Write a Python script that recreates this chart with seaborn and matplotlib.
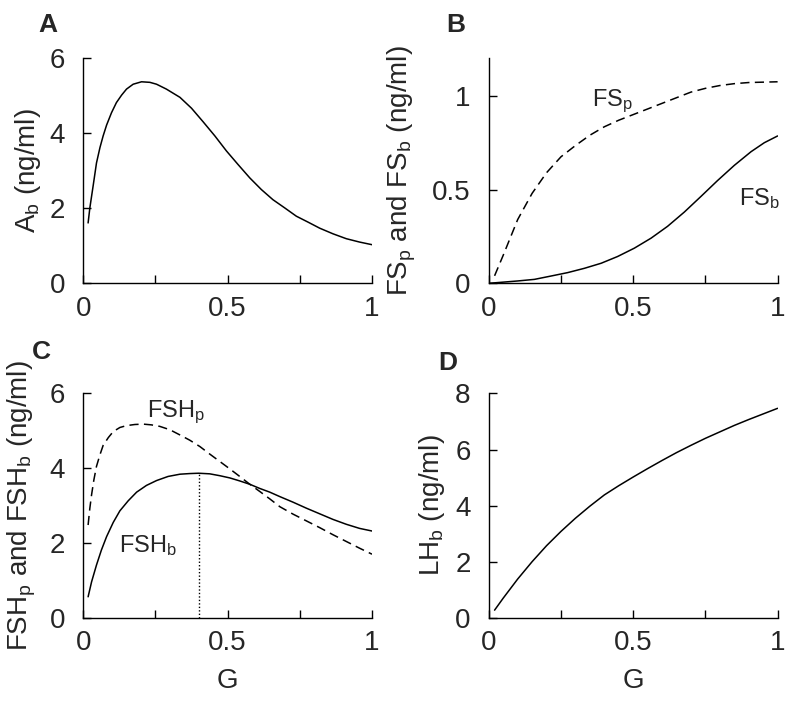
import seaborn as sns
import matplotlib.pyplot as plt

# Panel A: A_b vs G
a_x = [0.017, 0.023, 0.035, 0.046, 0.058, 0.069, 0.081, 0.098, 0.115, 0.133, 0.150, 0.173,
       0.202, 0.231, 0.254, 0.288, 0.335, 0.375, 0.415, 0.456, 0.496, 0.536, 0.577, 0.617,
       0.657, 0.698, 0.738, 0.779, 0.819, 0.865, 0.911, 0.957, 1.0]
a_y = [1.61, 2.01, 2.63, 3.21, 3.62, 3.93, 4.22, 4.55, 4.82, 5.02, 5.18, 5.31,
       5.375, 5.36, 5.31, 5.18, 4.96, 4.67, 4.31, 3.93, 3.53, 3.17, 2.81, 2.50,
       2.23, 2.01, 1.79, 1.63, 1.47, 1.32, 1.19, 1.10, 1.03]

# Panel B: FS_p (dashed) and FS_b (solid)
fsp_x = [0.02, 0.05, 0.1, 0.15, 0.2, 0.25, 0.3, 0.35, 0.4, 0.45, 0.5, 0.55, 0.6, 0.65,
         0.7, 0.75, 0.8, 0.85, 0.9, 1.0]
fsp_y = [0.04, 0.15, 0.34, 0.48, 0.59, 0.675, 0.735, 0.79, 0.835, 0.87, 0.90, 0.93, 0.96,
         0.99, 1.02, 1.04, 1.055, 1.065, 1.071, 1.075]
fsb_x = [0.0, 0.100, 0.158, 0.216, 0.273, 0.331, 0.389, 0.446, 0.504, 0.562, 0.619, 0.677,
         0.735, 0.792, 0.850, 0.908, 0.954, 1.0]
fsb_y = [0.0, 0.0125, 0.021, 0.039, 0.057, 0.080, 0.107, 0.143, 0.1875, 0.241, 0.304, 0.380,
         0.464, 0.548, 0.629, 0.702, 0.750, 0.786]

# Panel C: FSH_b (solid) and FSH_p (dashed)
fshb_x = [0.017, 0.029, 0.046, 0.063, 0.081, 0.104, 0.127, 0.156, 0.185, 0.219, 0.254, 0.294,
          0.335, 0.369, 0.400, 0.438, 0.473, 0.508, 0.542, 0.577, 0.611, 0.646, 0.681, 0.727,
          0.773, 0.819, 0.865, 0.911, 0.957, 1.0]
fshb_y = [0.56, 0.96, 1.41, 1.81, 2.17, 2.55, 2.86, 3.13, 3.36, 3.54, 3.67, 3.78,
          3.84, 3.857, 3.866, 3.85, 3.80, 3.74, 3.66, 3.57, 3.46, 3.36, 3.24, 3.09,
          2.93, 2.78, 2.63, 2.50, 2.39, 2.32]
fshp_x = [0.017, 0.023, 0.029, 0.037, 0.046, 0.058, 0.069, 0.087, 0.104, 0.127, 0.150, 0.179,
          0.208, 0.236, 0.265, 0.300, 0.335, 0.369, 0.404, 0.438, 0.473, 0.508, 0.542, 0.577,
          0.611, 0.646, 0.681, 0.727, 0.773, 0.819, 0.865, 0.911, 0.957, 1.0]
fshp_y = [2.48, 2.93, 3.29, 3.69, 4.05, 4.36, 4.61, 4.82, 4.98, 5.09, 5.14, 5.17,
          5.18, 5.16, 5.12, 5.03, 4.89, 4.75, 4.58, 4.38, 4.18, 3.98, 3.78, 3.57,
          3.38, 3.18, 2.97, 2.77, 2.59, 2.41, 2.22, 2.04, 1.86, 1.70]
g_peak = 0.40
fshb_peak = 3.866

# Panel D: LH_b vs G
lh_x = [0.02, 0.05, 0.1, 0.15, 0.2, 0.25, 0.3, 0.35, 0.4, 0.45, 0.5, 0.55, 0.6, 0.65,
        0.7, 0.75, 0.8, 0.85, 0.9, 0.95, 1.0]
lh_y = [0.27, 0.70, 1.38, 2.00, 2.57, 3.08, 3.55, 3.98, 4.38, 4.71, 5.02, 5.32, 5.61, 5.89,
        6.15, 6.40, 6.63, 6.86, 7.07, 7.27, 7.47]

sns.set_style("ticks")
plt.rcParams['font.family'] = ['Liberation Sans', 'DejaVu Sans']
plt.rcParams['mathtext.default'] = 'regular'

fig = plt.figure(figsize=(8, 7.03), dpi=100)
axA = fig.add_axes([0.104, 0.597, 0.361, 0.320])
axB = fig.add_axes([0.611, 0.597, 0.361, 0.320])
axC = fig.add_axes([0.104, 0.1213, 0.361, 0.319])
axD = fig.add_axes([0.611, 0.1213, 0.361, 0.319])

dash = (0, (6, 3.5))
lw = 1.1

sns.lineplot(x=a_x, y=a_y, ax=axA, color='black', linewidth=lw, sort=False)
sns.lineplot(x=fsp_x, y=fsp_y, ax=axB, color='black', linewidth=lw, linestyle=dash, sort=False)
sns.lineplot(x=fsb_x, y=fsb_y, ax=axB, color='black', linewidth=lw, sort=False)
sns.lineplot(x=fshp_x, y=fshp_y, ax=axC, color='black', linewidth=lw, linestyle=dash, sort=False)
sns.lineplot(x=fshb_x, y=fshb_y, ax=axC, color='black', linewidth=lw, sort=False)
axC.plot([g_peak, g_peak], [0, fshb_peak], color='black', linewidth=1, linestyle=(0, (1, 1.5)))
sns.lineplot(x=lh_x, y=lh_y, ax=axD, color='black', linewidth=lw, sort=False)

ylims = {axA: (6, [0, 2, 4, 6], ['0', '2', '4', '6']),
         axB: (1.2, [0, 0.5, 1], ['0', '0.5', '1']),
         axC: (6, [0, 2, 4, 6], ['0', '2', '4', '6']),
         axD: (8, [0, 2, 4, 6, 8], ['0', '2', '4', '6', '8'])}

for ax, (top, yt, yl) in ylims.items():
    ax.set_xlim(0, 1)
    ax.set_ylim(0, top)
    ax.set_xticks([0, 0.25, 0.5, 0.75, 1])
    ax.set_xticklabels(['0', '', '0.5', '', '1'])
    ax.set_yticks(yt)
    ax.set_yticklabels(yl)
    ax.tick_params(direction='in', length=6, width=1, labelsize=20, color='black')
    ax.tick_params(axis='x', pad=9)
    ax.tick_params(axis='y', pad=13)
    sns.despine(ax=ax)
    for s in ['left', 'bottom']:
        ax.spines[s].set_linewidth(1)
        ax.spines[s].set_color('black')

axA.set_ylabel('A$_b$ (ng/ml)', fontsize=20)
axB.set_ylabel('FS$_p$ and FS$_b$ (ng/ml)', fontsize=20)
axC.set_ylabel('FSH$_p$ and FSH$_b$ (ng/ml)', fontsize=20)
axD.set_ylabel('LH$_b$ (ng/ml)', fontsize=20)
axA.yaxis.set_label_coords(-0.14, 0.5)
axB.yaxis.set_label_coords(-0.246, 0.5)
axC.yaxis.set_label_coords(-0.156, 0.5)
axD.yaxis.set_label_coords(-0.145, 0.5)
axC.set_xlabel('G', fontsize=20)
axD.set_xlabel('G', fontsize=20)
axC.xaxis.set_label_coords(0.5, -0.225)
axD.xaxis.set_label_coords(0.5, -0.225)

axB.text(0.358, 0.947, 'FS$_p$', fontsize=17, ha='left', va='baseline')
axB.text(0.866, 0.417, 'FS$_b$', fontsize=17, ha='left', va='baseline')
axC.text(0.22, 5.37, 'FSH$_p$', fontsize=17, ha='left', va='baseline')
axC.text(0.123, 1.76, 'FSH$_b$', fontsize=17, ha='left', va='baseline')

for lab, (px, py) in {'A': (48, 25), 'B': (456, 25), 'C': (41, 352), 'D': (448, 363)}.items():
    fig.text(px / 800, 1 - py / 703, lab, fontsize=19, fontweight='bold', ha='center', va='center')

fig.savefig('out.png', dpi=100)
